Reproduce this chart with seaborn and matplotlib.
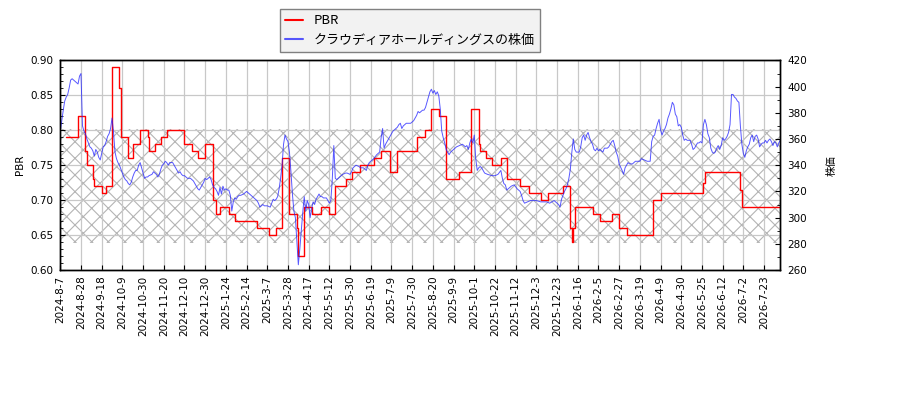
import matplotlib
matplotlib.use("Agg")
import matplotlib.pyplot as plt
from matplotlib.ticker import MultipleLocator, FormatStrFormatter
import seaborn as sns

# x axis = trading day number (0 = 2024-8-7), a date label every 14 days
tick_dates = [
    "2024-8-7", "2024-8-28", "2024-9-18", "2024-10-9", "2024-10-30",
    "2024-11-20", "2024-12-10", "2024-12-30", "2025-1-24", "2025-2-14",
    "2025-3-7", "2025-3-28", "2025-4-17", "2025-5-12", "2025-5-30",
    "2025-6-19", "2025-7-9", "2025-7-30", "2025-8-20", "2025-9-9",
    "2025-10-1", "2025-10-22", "2025-11-12", "2025-12-3", "2025-12-23",
    "2026-1-16", "2026-2-5", "2026-2-27", "2026-3-19", "2026-4-9",
    "2026-4-30", "2026-5-25", "2026-6-12", "2026-7-2", "2026-7-23",
]
last_day = 487

# PBR: day where a new value starts, and that value
pbr_day = [4, 12, 17, 18, 22, 23, 28, 31, 35, 40,
           41, 46, 49, 54, 59, 60, 64, 68, 72, 84,
           89, 93, 98, 103, 105, 108, 114, 118, 133, 141,
           146, 150, 155, 160, 161, 165, 170, 176, 182, 186,
           193, 197, 203, 212, 217, 223, 228, 241, 247, 251,
           256, 261, 270, 278, 283, 284, 288, 292, 298, 302,
           311, 317, 325, 330, 340, 345, 346, 347, 348, 360,
           365, 373, 378, 383, 401, 406, 435, 436, 460, 461,
           487]
pbr_val = [0.79, 0.82, 0.77, 0.75, 0.73, 0.72, 0.71, 0.72, 0.89, 0.86,
           0.79, 0.76, 0.78, 0.80, 0.79, 0.77, 0.78, 0.79, 0.80, 0.78,
           0.77, 0.76, 0.78, 0.70, 0.68, 0.69, 0.68, 0.67, 0.66, 0.65,
           0.66, 0.76, 0.68, 0.66, 0.62, 0.69, 0.68, 0.69, 0.68, 0.72,
           0.73, 0.74, 0.75, 0.76, 0.77, 0.74, 0.77, 0.79, 0.80, 0.83,
           0.82, 0.73, 0.74, 0.83, 0.78, 0.77, 0.76, 0.75, 0.76, 0.73,
           0.72, 0.71, 0.70, 0.71, 0.72, 0.66, 0.64, 0.66, 0.69, 0.68,
           0.67, 0.68, 0.66, 0.65, 0.70, 0.71, 0.725, 0.74, 0.715, 0.69,
           0.69]

# share price (yen)
price_day = (
    [0, 1, 2, 3, 4, 5, 6, 7, 8, 9, 10, 12, 13, 14, 15, 16, 17, 18, 19, 20,
     21, 22, 23, 24, 25, 26, 27, 28, 29, 30, 31, 32, 33, 34, 35, 36, 37, 38, 39, 40,
     41, 42, 43, 44, 45, 46, 47, 48, 49, 50, 51, 52, 53, 54, 55, 56, 57, 58, 59, 60,
     62, 63, 65, 66, 67, 68, 69, 70, 71, 72, 73, 74, 76, 77, 78, 80, 81, 82, 83]
    + [84, 85, 86, 88, 90, 91, 92, 93, 94, 95, 96, 97, 98, 99, 100, 101, 102, 103,
       104, 105, 106, 107, 108, 109, 110, 111, 112, 113, 114, 115, 116, 117, 118,
       119, 120, 121, 122, 124, 126, 127, 128, 130, 131, 132, 133, 134, 135, 136,
       137, 138, 140, 142, 143, 144, 145, 146, 147, 148, 149, 150, 151, 152, 153,
       154, 155, 156, 157, 158, 159, 160, 161]
    + [162, 163, 164, 165, 166, 167, 168, 169, 170, 171, 172, 173, 174, 175, 176,
       177, 178, 180, 182, 183, 184, 185, 186, 187, 188, 189, 190, 191, 193, 194,
       196, 197, 198, 200, 202, 203, 205, 207, 208, 209, 211, 212, 214, 215, 216,
       217, 218, 219, 220, 221, 222, 223, 224, 225, 226, 227, 228, 229, 230, 231,
       232, 233, 234, 235, 237, 238, 239, 240, 241, 242, 243, 244, 245, 246, 247]
    + [248, 249, 250, 251, 252, 253, 254, 255, 256, 257, 258, 259, 260, 261, 262,
       263, 264, 265, 266, 268, 270, 272, 274, 275, 276, 277, 278, 279, 280, 281,
       282, 283, 284, 285, 286, 287, 289, 292, 294, 296, 298, 299, 300, 301, 302,
       303, 305, 307, 309, 311, 312, 313, 314, 316, 318, 320, 322, 325, 327]
    + [329, 331, 334, 336, 337, 338, 339, 340, 341, 342, 343, 344, 345, 346, 347,
       348, 349, 350, 351, 352, 353, 354, 355, 356, 357, 358, 359, 360, 361, 362,
       363, 364, 365, 367, 368, 370, 371, 372, 373, 374, 375, 376, 377, 378, 380,
       381, 382, 383, 384, 385, 387, 389, 390, 392, 393, 395, 397, 399, 400, 401,
       402, 403, 404, 405, 406, 407, 408]
    + list(range(409, 488))
)
price_val = (
    [366, 374, 382, 389, 392, 394, 399, 405, 406, 405, 404, 402, 408, 410, 370, 366, 364, 360, 357, 354,
     353, 351, 347, 352, 350, 346, 344, 349, 354, 355, 358, 362, 364, 368, 376, 365, 350, 345, 342, 340,
     337, 334, 331, 329, 328, 326, 325, 327, 331, 334, 336, 336, 340, 342, 338, 334, 330, 331, 331, 332,
     333, 335, 333, 331, 333, 337, 340, 341, 343, 342, 340, 342, 342, 340, 338, 334, 335, 333, 332]
    + [332, 331, 330, 330, 328, 326, 324, 322, 321, 323, 325, 327, 330, 329, 330, 331, 329, 325,
       323, 322, 320, 317, 323, 318, 324, 321, 322, 321, 321, 317, 305, 312, 315,
       314, 316, 317, 317, 318, 320, 319, 318, 316, 315, 314, 313, 311, 308, 309,
       310, 309, 309, 308, 311, 314, 313, 314, 316, 322, 330, 340, 356, 363, 360,
       358, 350, 335, 318, 305, 300, 282, 264]
    + [276, 290, 304, 316, 305, 313, 310, 300, 307, 312, 310, 314, 316, 318, 316,
       316, 315, 315, 311, 313, 330, 355, 330, 329, 330, 331, 332, 333, 334, 334,
       333, 335, 338, 340, 339, 338, 338, 336, 340, 342, 344, 345, 348, 349, 350,
       361, 368, 353, 356, 358, 360, 362, 364, 366, 367, 368, 369, 371, 372, 368,
       370, 371, 372, 372, 372, 373, 374, 376, 378, 381, 380, 381, 382, 382, 384]
    + [388, 392, 396, 398, 395, 397, 394, 396, 393, 383, 366, 361, 357, 352, 350,
       348, 350, 351, 352, 354, 355, 356, 354, 355, 352, 357, 360, 357, 363, 345,
       336, 338, 339, 338, 336, 334, 333, 332, 332, 333, 336, 330, 326, 325, 321,
       322, 324, 325, 322, 320, 317, 313, 311, 312, 313, 313, 313, 312, 312]
    + [312, 311, 313, 311, 310, 308, 314, 317, 320, 322, 325, 330, 337, 350, 360,
       352, 350, 350, 350, 354, 361, 363, 359, 363, 365, 361, 358, 356, 352, 351,
       353, 351, 352, 350, 353, 353, 354, 356, 358, 359, 355, 350, 347, 341, 336,
       333, 338, 340, 342, 341, 341, 343, 343, 343, 345, 344, 343, 343, 358, 362,
       363, 368, 372, 375, 367, 363, 366]
    + [368, 371, 376, 379, 383, 388, 386, 379, 377, 370,
       371, 369, 363, 359, 360, 359, 359, 359, 356, 352,
       353, 355, 357, 357, 358, 357, 371, 375, 371, 364,
       361, 353, 350, 349, 350, 353, 355, 352, 355, 361,
       359, 360, 362, 365, 371, 394, 394, 392, 391, 389,
       388, 370, 356, 349, 346, 351, 354, 356, 361, 363,
       358, 362, 363, 360, 354, 356, 357, 357, 359, 357,
       359, 360, 358, 355, 358, 357, 354, 357, 359]
)

band_low, band_high = 0.639, 0.802
price_label = "クラウディアホールディングスの株価"

sns.set_style("ticks", {"axes.edgecolor": "black", "text.color": "black",
                        "xtick.color": "black", "ytick.color": "black",
                        "axes.labelcolor": "black"})
plt.rcParams["font.family"] = ["DejaVu Sans", "Noto Sans CJK JP"]
plt.rcParams["hatch.linewidth"] = 0.8

fig, ax = plt.subplots(figsize=(9, 4), dpi=100)
fig.subplots_adjust(left=0.067, right=0.867, top=0.849, bottom=0.325)
ax2 = ax.twinx()

ax.axhspan(band_low, band_high, facecolor="none", edgecolor="#b4b4b4",
           hatch="xx", linewidth=0, zorder=0)
ax.grid(True, color="#c8c8c8", linewidth=0.9)

sns.lineplot(x=pbr_day, y=pbr_val, ax=ax, color="red", linewidth=1.0,
             drawstyle="steps-post", estimator=None)
sns.lineplot(x=price_day, y=price_val, ax=ax2, color="#2020ff", alpha=0.75,
             linewidth=0.7, estimator=None)
h_pbr = ax.lines[-1]
h_price = ax2.lines[-1]

ax.set_xlim(0, last_day)
ax.set_xticks(range(0, last_day + 1, 14))
ax.set_xticklabels(tick_dates, rotation=90)

ax.set_ylim(0.60, 0.90)
ax.yaxis.set_major_locator(MultipleLocator(0.05))
ax.yaxis.set_minor_locator(MultipleLocator(0.01))
ax.yaxis.set_major_formatter(FormatStrFormatter("%.2f"))

ax2.set_ylim(260, 420)
ax2.yaxis.set_major_locator(MultipleLocator(20))
ax2.yaxis.set_minor_locator(MultipleLocator(10))

for a in (ax, ax2):
    a.tick_params(which="both", direction="in", labelsize=7.5, pad=5)
    a.tick_params(which="major", length=3.5, width=0.8)
    a.tick_params(which="minor", length=2, width=0.6)
    for s in a.spines.values():
        s.set_linewidth(1.0)
        s.set_color("black")
ax.tick_params(axis="x", pad=4)

ax.set_xlabel("")
ax.set_ylabel("PBR", fontsize=7.5)
ax2.set_ylabel("株価", fontsize=7.5, labelpad=14,
               family=["Noto Sans CJK JP", "DejaVu Sans"])

leg = fig.legend([h_pbr, h_price], ["PBR", price_label], loc="upper left",
                 bbox_to_anchor=(0.311, 0.9775), borderaxespad=0,
                 fancybox=False, edgecolor="#808080", facecolor="#f2f2f2",
                 framealpha=1, handlelength=1.4, handletextpad=0.8,
                 borderpad=0.4, labelspacing=0.5,
                 prop={"family": ["Noto Sans CJK JP", "DejaVu Sans"], "size": 9.4})
for line in leg.get_lines():
    line.set_linewidth(1.5)

fig.savefig("out.png", dpi=100)
